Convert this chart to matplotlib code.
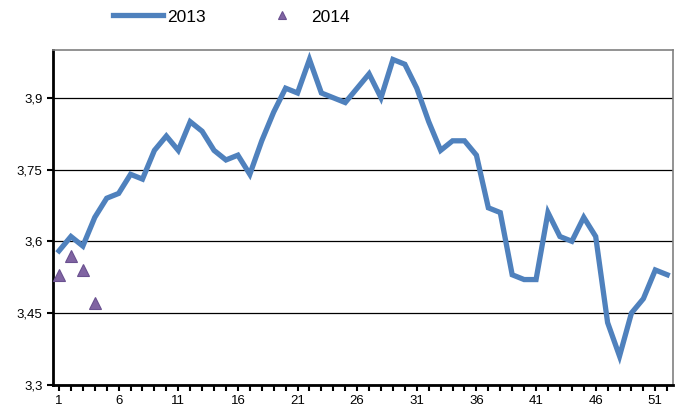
import numpy as np
import matplotlib.pyplot as plt

plt.rcParams['font.family'] = ['Liberation Sans', 'DejaVu Sans']

# weekly values
weeks_2013 = list(range(1, 53))
vals_2013 = [3.58, 3.61, 3.59, 3.65, 3.69, 3.70, 3.74, 3.73, 3.79, 3.82,
             3.79, 3.85, 3.83, 3.79, 3.77, 3.78, 3.74, 3.81, 3.87, 3.92,
             3.91, 3.98, 3.91, 3.90, 3.89, 3.92, 3.95, 3.90, 3.98, 3.97,
             3.92, 3.85, 3.79, 3.81, 3.81, 3.78, 3.67, 3.66, 3.53, 3.52,
             3.52, 3.66, 3.61, 3.60, 3.65, 3.61, 3.43, 3.36, 3.45, 3.48,
             3.54, 3.53]
weeks_2014 = [1, 2, 3, 4]
vals_2014 = [3.53, 3.57, 3.54, 3.47]

y_ticks = [3.3, 3.45, 3.6, 3.75, 3.9]
y_labels = ["3,3", "3,45", "3,6", "3,75", "3,9"]
x_labels = [1, 6, 11, 16, 21, 26, 31, 36, 41, 46, 51]

fig = plt.figure(figsize=(6.8, 4.16), dpi=100)
ax = fig.add_axes([0.078, 0.075, 0.912, 0.805])

ax.plot(weeks_2013, vals_2013, color="#4F81BD", lw=3.8, solid_joinstyle="miter",
        label="2013", zorder=3)
ax.plot(weeks_2014, vals_2014, linestyle="none", marker="^", ms=9,
        color="#8064A2", mec="#6A5190", mew=0.8, label="2014", zorder=4)

ax.set_xlim(0.5, 52.5)
ax.set_ylim(3.3, 4.0)
ax.set_yticks(y_ticks)
ax.set_yticklabels(y_labels)
ax.set_xticks(x_labels)
ax.set_xticks(np.arange(1, 53), minor=True)
ax.grid(axis="y", color="black", lw=0.9, zorder=1)

ax.tick_params(axis="both", labelsize=9.5, direction="out", width=1.5, length=4)
ax.tick_params(axis="x", which="minor", direction="out", width=1.5, length=4)
ax.tick_params(axis="x", pad=3)

for s in ["left", "bottom"]:
    ax.spines[s].set_linewidth(2)
    ax.spines[s].set_color("black")
for s in ["top", "right"]:
    ax.spines[s].set_linewidth(1.2)
    ax.spines[s].set_color("#808080")

fig.legend(loc="upper center", bbox_to_anchor=(0.34, 1.015), ncol=2, frameon=False,
           fontsize=12.5, handlelength=2.9, columnspacing=2.9, handletextpad=0.25,
           numpoints=1, markerscale=0.7)

plt.savefig("out.png")
